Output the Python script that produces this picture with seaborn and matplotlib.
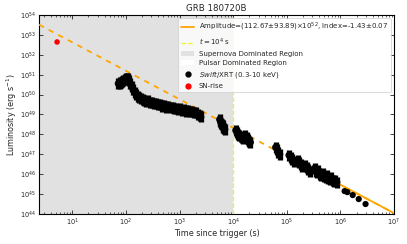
import numpy as np
import pandas as pd
import matplotlib
matplotlib.use("Agg")
import matplotlib.pyplot as plt
import seaborn as sns
from matplotlib.lines import Line2D
from matplotlib.patches import Patch

# Swift/XRT light curve (time in s, log10 luminosity in erg/s)
xrt_time = [72, 76, 80, 85, 90, 95, 100, 105, 110, 115, 120, 128, 136, 145, 155,
            165, 178, 190, 205, 220, 240, 260, 285, 310, 340, 370, 400, 440, 480,
            520, 570, 620, 680, 740, 800, 870, 950, 1030, 1120, 1220, 1330, 1450,
            1580, 1720, 1870, 2030, 2200, 2400, 2500,
            5600, 5800, 6000, 6200, 6400, 6600, 6800, 7000,
            11200, 11800, 12400, 13000, 13800, 14500, 15500,
            17000, 18000, 19000, 20000, 21000,
            62000, 66000, 70000, 74000,
            110000, 118000, 126000, 134000,
            160000, 170000, 182000, 195000,
            220000, 235000, 252000, 270000,
            330000, 350000, 370000, 390000, 410000, 440000, 470000, 500000,
            530000, 560000, 600000, 640000, 680000, 720000, 760000, 810000, 860000]
xrt_logL = [50.55, 50.58, 50.62, 50.66, 50.70, 50.74, 50.78, 50.81, 50.82, 50.70,
            50.55, 50.40, 50.25, 50.10, 50.00, 49.92, 49.85, 49.80, 49.76, 49.72,
            49.66, 49.68, 49.61, 49.62, 49.54, 49.55, 49.48, 49.50, 49.42, 49.45,
            49.37, 49.41, 49.33, 49.36, 49.28, 49.31, 49.25, 49.28, 49.21, 49.25,
            49.17, 49.21, 49.13, 49.16, 49.08, 49.10, 48.98, 48.95, 48.88,
            48.75, 48.65, 48.55, 48.50, 48.42, 48.35, 48.30, 48.25,
            48.20, 48.10, 48.00, 47.95, 47.90, 47.85, 47.80,
            47.95, 47.85, 47.75, 47.65, 47.60,
            47.35, 47.25, 47.10, 47.00,
            46.95, 46.85, 46.75, 46.65,
            46.70, 46.60, 46.50, 46.40,
            46.45, 46.35, 46.25, 46.15,
            46.30, 46.15, 46.10, 46.20, 46.00, 45.95, 46.05, 45.90,
            45.85, 45.95, 45.80, 45.75, 45.85, 45.70, 45.65, 45.70, 45.60]
xrt_logerr = 0.28

# late-time single detections (small errors)
late_time = [1.2e6, 1.35e6, 1.7e6, 2.2e6, 2.95e6]
late_logL = [45.15, 45.10, 44.95, 44.75, 44.50]

# SN-rise point
sn_time = [5.2]
sn_logL = [52.64]

# power-law fit
amp = 112.67e52
index = -1.43
fit_range = [1e5, 1e7]
t_split = 1e4

sns.set_theme(style="ticks")
plt.rcParams.update({
    "font.family": ["DejaVu Sans"],
    "font.size": 5,
    "axes.labelsize": 5.8,
    "axes.titlesize": 6.2,
    "xtick.labelsize": 4.8,
    "ytick.labelsize": 4.8,
    "legend.fontsize": 5,
    "xtick.direction": "in",
    "ytick.direction": "in",
    "xtick.top": True,
    "ytick.right": True,
    "axes.linewidth": 0.8,
    "axes.edgecolor": "black",
})

fig, ax = plt.subplots(figsize=(4.07, 2.44), dpi=100)
fig.subplots_adjust(left=0.096, right=0.968, top=0.939, bottom=0.123)

xlim = (2.4, 1e7)
ax.axvspan(xlim[0], t_split, color="#e1e1e1", zorder=0, lw=0)
ax.axvspan(t_split, xlim[1], color="white", zorder=0, lw=0)
ax.axvline(t_split, color="#f2f230", ls="--", lw=0.9, zorder=1)

# fit lines
t_all = np.logspace(np.log10(xlim[0]), np.log10(xlim[1]), 200)
fit_all = pd.DataFrame({"t": t_all, "L": amp * t_all ** index})
t_fit = np.logspace(np.log10(fit_range[0]), np.log10(fit_range[1]), 100)
fit_sub = pd.DataFrame({"t": t_fit, "L": amp * t_fit ** index})
sns.lineplot(data=fit_all, x="t", y="L", ax=ax, color="orange", ls=(0, (3, 3)), lw=1.3, zorder=3)
sns.lineplot(data=fit_sub, x="t", y="L", ax=ax, color="orange", lw=1.3, zorder=3)

# data
xrt = pd.DataFrame({"t": xrt_time, "logL": xrt_logL})
xrt["L"] = 10 ** xrt["logL"]
lo = xrt["L"] - 10 ** (xrt["logL"] - xrt_logerr)
hi = 10 ** (xrt["logL"] + xrt_logerr) - xrt["L"]
ax.errorbar(xrt["t"], xrt["L"], yerr=[lo, hi], fmt="none", ecolor="black", elinewidth=3.8,
            capsize=0, zorder=4)
sns.scatterplot(data=xrt, x="t", y="L", ax=ax, color="black", s=26, edgecolor="none", zorder=5)

late = pd.DataFrame({"t": late_time, "L": 10 ** np.array(late_logL)})
sns.scatterplot(data=late, x="t", y="L", ax=ax, color="black", s=20, edgecolor="none", zorder=5)

sn = pd.DataFrame({"t": sn_time, "L": 10 ** np.array(sn_logL)})
sns.scatterplot(data=sn, x="t", y="L", ax=ax, color="red", s=16, edgecolor="none", zorder=5)

ax.set_xscale("log")
ax.set_yscale("log")
ax.set_xlim(*xlim)
ax.set_ylim(1e44, 1e54)
ax.set_yticks([10.0 ** k for k in range(44, 55)])
ax.tick_params(which="major", length=3, width=0.6, pad=2)
ax.tick_params(which="minor", length=1.5, width=0.5)
ax.set_xlabel("Time since trigger (s)", labelpad=1)
ax.set_ylabel("Luminosity (erg s$^{-1}$)", labelpad=1)
ax.set_title("GRB 180720B", pad=3)

handles = [
    Line2D([], [], color="orange", lw=1.3),
    Line2D([], [], color="#f2f230", ls="--", lw=0.9),
    Patch(facecolor="#e1e1e1", edgecolor="none"),
    Patch(facecolor="white", edgecolor="none"),
    Line2D([], [], color="black", marker="o", ms=3.5, ls="none"),
    Line2D([], [], color="red", marker="o", ms=3.5, ls="none"),
]
labels = [
    "Amplitude=(112.67\u00b193.89)\u00d710$^{52}$, Index=-1.43\u00b10.07",
    "$t=10^4$ s",
    "Supernova Dominated Region",
    "Pulsar Dominated Region",
    "$Swift$/XRT (0.3-10 keV)",
    "SN-rise",
]
leg = ax.legend(handles, labels, loc="upper right", frameon=True, framealpha=0.8,
                edgecolor="#cccccc", fancybox=True, borderpad=0.4, labelspacing=0.45,
                handlelength=2.0, handletextpad=0.6)
leg.get_frame().set_linewidth(0.6)

fig.savefig("out.png", dpi=100)
